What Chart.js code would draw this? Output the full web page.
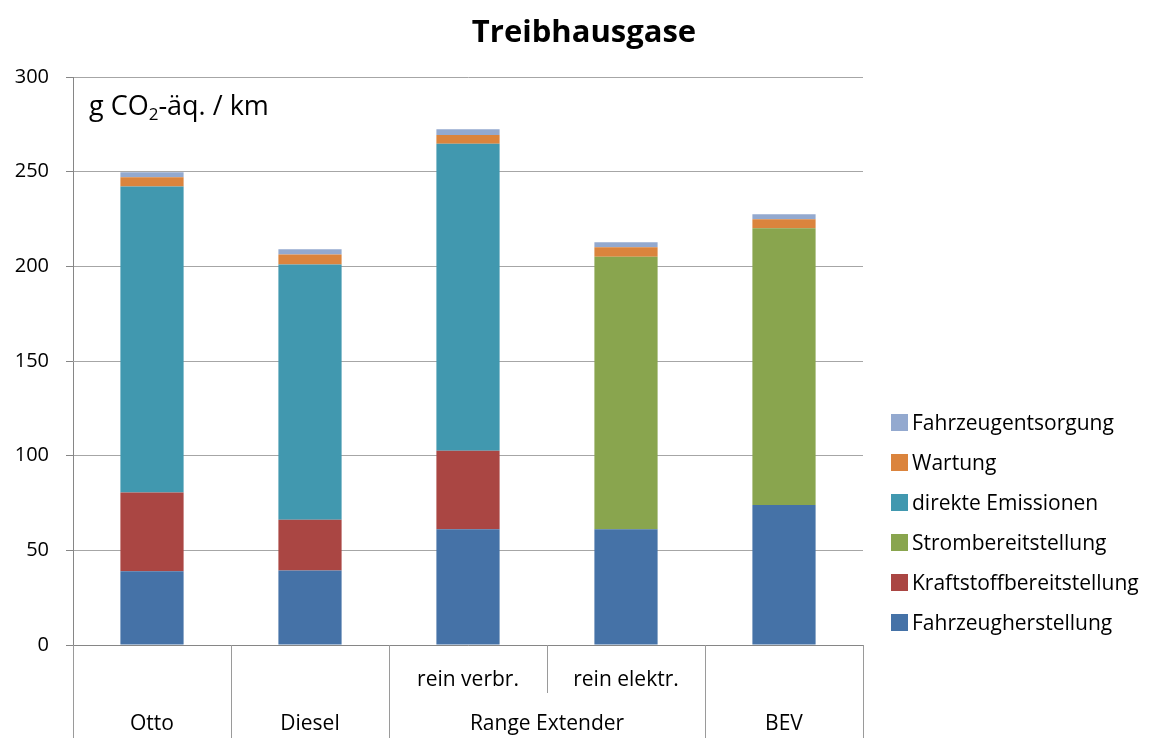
<!DOCTYPE html>
<html lang="de">
<head>
<meta charset="utf-8">
<title>Treibhausgase</title>
<script src="https://cdn.jsdelivr.net/npm/chart.js@4.4.0/dist/chart.umd.min.js"></script>
<style>
    html, body { margin: 0; padding: 0; background: #fff; }
    #wrap { position: relative; width: 1155px; height: 738px; }
    #legend { position: absolute; left: 891px; top: 402px; }
    .legend-item { display: flex; align-items: center; height: 40px; font: 21px "Open Sans", sans-serif; color: #000; white-space: nowrap; }
    .swatch { display: inline-block; width: 17px; height: 17px; margin-right: 4px; }
</style>
</head>
<body>
<div id="wrap">
    <canvas id="ghgChart" width="1155" height="738"></canvas>
    <div id="legend"></div>
</div>
<script>
// Vehicle concepts: upper label row (variants) and lower label row (groups)
const subLabels = ['', '', 'rein verbr.', 'rein elektr.', ''];
const groupLabels = ['Otto', 'Diesel', 'Range Extender', 'BEV'];
const groupSpans = [1, 1, 2, 1];

// g CO2-äq. / km per life-cycle stage
const fahrzeugherstellung = [39.0, 39.4, 61.1, 61.1, 74.0];
const kraftstoffbereitstellung = [41.5, 26.8, 41.5, 0, 0];
const strombereitstellung = [0, 0, 0, 144.0, 146.1];
const direkteEmissionen = [161.6, 134.8, 162.1, 0, 0];
const wartung = [4.9, 5.3, 4.7, 5.0, 4.8];
const fahrzeugentsorgung = [2.7, 2.7, 3.0, 2.6, 2.6];

const yMin = 0, yMax = 300, yStep = 50;

const chartTitle = 'Treibhausgase';
const FONT = '"Open Sans", sans-serif';
const AXIS_GREY = '#868686';

// title, second label row, group dividers and the unit text
const extrasPlugin = {
    id: 'extras',
    afterDraw(chart) {
        const { ctx, chartArea } = chart;
        const x = chart.scales.x;
        const bottom = chart.height;
        const half = (x.getPixelForValue(1) - x.getPixelForValue(0)) / 2;

        ctx.save();
        ctx.fillStyle = '#000';
        ctx.textAlign = 'center';
        ctx.textBaseline = 'middle';
        ctx.font = 'bold 31px ' + FONT;
        ctx.fillText(chartTitle, 584, 33);

        ctx.strokeStyle = '#9a9a9a';
        ctx.lineWidth = 1;
        // boundaries between categories
        let idx = 0;
        const groupEdges = [0];
        groupSpans.forEach(s => { idx += s; groupEdges.push(idx); });
        for (let i = 0; i <= subLabels.length; i++) {
            const px = Math.round(x.getPixelForValue(i) - half) + 0.5;
            const full = groupEdges.includes(i);
            ctx.beginPath();
            ctx.moveTo(px, chartArea.bottom);
            ctx.lineTo(px, full ? bottom : chartArea.bottom + 48);
            ctx.stroke();
        }

        // group names
        ctx.font = '21px ' + FONT;
        let start = 0;
        groupLabels.forEach((g, i) => {
            const end = start + groupSpans[i] - 1;
            const cx = (x.getPixelForValue(start) + x.getPixelForValue(end)) / 2;
            ctx.fillText(g, cx, 724);
            start = end + 1;
        });

        // unit text with subscript
        ctx.textAlign = 'left';
        ctx.textBaseline = 'alphabetic';
        let tx = chartArea.left + 16;
        const ty = 115;
        ctx.font = '27px ' + FONT;
        ctx.fillText('g CO', tx, ty);
        tx += ctx.measureText('g CO').width;
        ctx.font = '17px ' + FONT;
        ctx.fillText('2', tx, ty + 5);
        tx += ctx.measureText('2').width;
        ctx.font = '27px ' + FONT;
        ctx.fillText('-äq. / km', tx, ty);
        ctx.restore();
    }
};

const ctx = document.getElementById('ghgChart').getContext('2d');
const chart = new Chart(ctx, {
    type: 'bar',
    data: {
        labels: subLabels,
        datasets: [
            { label: 'Fahrzeugherstellung', data: fahrzeugherstellung, backgroundColor: '#4572A7' },
            { label: 'Kraftstoffbereitstellung', data: kraftstoffbereitstellung, backgroundColor: '#AA4643' },
            { label: 'Strombereitstellung', data: strombereitstellung, backgroundColor: '#89A54E' },
            { label: 'direkte Emissionen', data: direkteEmissionen, backgroundColor: '#4198AF' },
            { label: 'Wartung', data: wartung, backgroundColor: '#DB843D' },
            { label: 'Fahrzeugentsorgung', data: fahrzeugentsorgung, backgroundColor: '#93A9CF' }
        ]
    },
    options: {
        responsive: false,
        animation: false,
        datasets: { bar: { barPercentage: 0.4, categoryPercentage: 1.0 } },
        layout: { padding: { left: 0, right: 292, top: 77, bottom: 0 } },
        plugins: {
            legend: { display: false },
            tooltip: { enabled: false }
        },
        scales: {
            x: {
                stacked: true,
                grid: { display: false, drawTicks: false },
                border: { display: true, color: AXIS_GREY, width: 1 },
                ticks: { color: '#000', font: { family: FONT, size: 21 }, padding: 22, maxRotation: 0, autoSkip: false },
                afterFit(scale) { scale.height = 93; }
            },
            y: {
                stacked: true,
                min: yMin,
                max: yMax,
                ticks: { stepSize: yStep, color: '#000', font: { family: FONT, size: 20 }, padding: 17 },
                grid: { color: '#a6a6a6', tickColor: AXIS_GREY, tickLength: 7 },
                border: { display: true, color: AXIS_GREY, width: 1 },
                afterFit(scale) { scale.width = 73; }
            }
        }
    },
    plugins: [extrasPlugin]
});

// legend, top entry = top of the stack
const legendEl = document.getElementById('legend');
Chart.defaults.plugins.legend.labels.generateLabels(chart).reverse().forEach(item => {
    const row = document.createElement('div');
    row.className = 'legend-item';
    const sw = document.createElement('span');
    sw.className = 'swatch';
    sw.style.background = item.fillStyle;
    row.appendChild(sw);
    row.appendChild(document.createTextNode(item.text));
    legendEl.appendChild(row);
});
</script>
</body>
</html>
